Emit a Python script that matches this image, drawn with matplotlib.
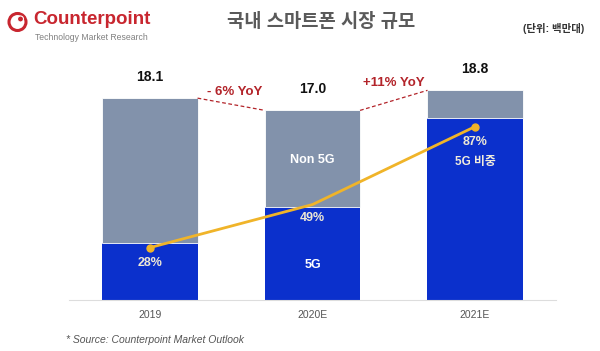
import matplotlib.pyplot as plt
from matplotlib.patches import Circle

plt.rcParams['font.family'] = ['Liberation Sans', 'Noto Sans CJK KR', 'DejaVu Sans']

# data
years = ['2019', '2020E', '2021E']
total = [18.1, 17.0, 18.8]
share_5g = [28, 49, 87]
yoy = ['- 6% YoY', '+11% YoY']

fiveg = [t * s / 100 for t, s in zip(total, share_5g)]
non5g = [t - f for t, f in zip(total, fiveg)]

blue = '#0b30cc'
slate = '#8292ab'
gold = '#f0b429'
red = '#b3242a'

fig = plt.figure(figsize=(6, 3.51), dpi=100)
ax = fig.add_axes([0.1146, 0.1453, 0.8125, 0.6838])
x = range(len(years))
w = 0.585

ax.bar(x, fiveg, width=w, color=blue, zorder=2)
ax.bar(x, non5g, width=w, bottom=fiveg, color=slate, edgecolor='white', linewidth=0.6, zorder=2)
ax.set_xlim(-0.5, 2.5)
ax.set_ylim(0, 21.52)
ax.set_yticks([])
for s in ['top', 'right', 'left']:
    ax.spines[s].set_visible(False)
ax.spines['bottom'].set_color('#dddddd')
ax.set_xticks(list(x))
ax.set_xticklabels(years, fontsize=7.5, color='#555555')
ax.tick_params(axis='x', length=0, pad=7)

# totals
for i, t in enumerate(total):
    ax.text(i, t + 1.3, f'{t:.1f}', ha='center', va='bottom', fontsize=10, fontweight='bold', color='#111111')

# dashed connectors and YoY labels
yoy_off = [0.55, 1.0]
yoy_dx = [0.02, 0.0]
for i in range(2):
    ax.plot([i + w / 2, i + 1 - w / 2], [total[i], total[i + 1]], ls=(0, (3, 2)), color=red, lw=0.9, zorder=3)
    mid = (total[i] + total[i + 1]) / 2
    ax.text(i + 0.5 + yoy_dx[i], mid + yoy_off[i], yoy[i], ha='center', va='bottom', fontsize=9.5, fontweight='bold', color=red)

# labels in bars
ax.text(1, fiveg[1] + non5g[1] * 0.49, 'Non 5G', ha='center', va='center', fontsize=9, fontweight='bold', color='white')
ax.text(1, fiveg[1] * 0.38, '5G', ha='center', va='center', fontsize=9, fontweight='bold', color='white')
ax.text(2, fiveg[2] - 4.0, '5G 비중', ha='center', va='center', fontsize=8.5, fontweight='bold', color='#f0ecdc')

# 5G share line on twin axis
ax2 = ax.twinx()
ax2.set_ylim(2.44, 119.5)
ax2.axis('off')
ax2.plot(list(x), share_5g, color=gold, lw=2, zorder=4)
ax2.plot([0, 2], [share_5g[0], share_5g[2]], 'o', color=gold, ms=5, ls='none', zorder=5)
pct_off = [-7.3, -6.5, -7.3]
for i, p in enumerate(share_5g):
    ax2.text(i, p + pct_off[i], f'{p}%', ha='center', va='center', fontsize=9, fontweight='bold', color='#eee8d5')

# title and unit
fig.text(0.535, 0.937, '국내 스마트폰 시장 규모', ha='center', va='center', fontsize=13.5, fontweight='bold', color='#5a5a5a')
fig.text(0.922, 0.918, '(단위: 백만대)', ha='center', va='center', fontsize=7.5, fontweight='bold', color='#333333')

# logo
fig.patches.append(Circle((0.175, 3.51 - 0.22), 0.085, transform=fig.dpi_scale_trans,
                          fill=False, edgecolor='#c8262f', lw=2.2))
fig.patches.append(Circle((0.205, 3.51 - 0.19), 0.03, transform=fig.dpi_scale_trans,
                          facecolor='#c8262f', edgecolor='white', lw=0.8))
fig.text(0.055, 0.945, 'Counterpoint', ha='left', va='center', fontsize=13.5, fontweight='bold', color='#c8262f')
fig.text(0.058, 0.893, 'Technology Market Research', ha='left', va='center', fontsize=6.2, color='#808080')

# source
fig.text(0.11, 0.032, '* Source: Counterpoint Market Outlook', ha='left', va='center', fontsize=7.5, style='italic', color='#555555')

fig.savefig('out.png', dpi=100, facecolor='white')
